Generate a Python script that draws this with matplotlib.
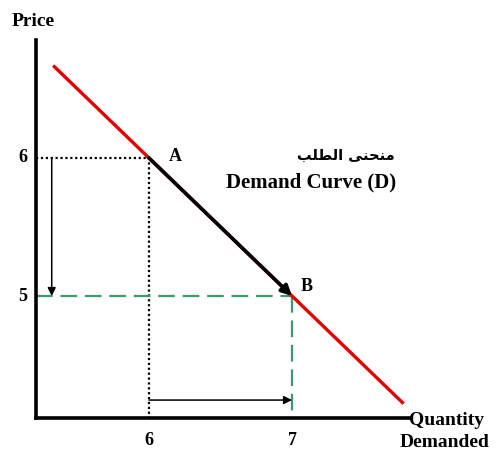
import matplotlib.pyplot as plt
import numpy as np

# demand curve P = 12 - Q, drawn between these quantities
demand_q = np.array([5.33, 7.78])
demand_p = 12 - demand_q

qty_ticks = [6, 7]
price_ticks = [6, 5]
point_labels = ["A", "B"]

serif = dict(family="Liberation Serif", fontweight="bold", color="black")

fig = plt.figure(figsize=(4.97, 4.55), dpi=100)
ax = fig.add_axes([36 / 497, 37 / 455, 374 / 497, 378 / 455])
ax.set_xlim(5.21, 7.825)
ax.set_ylim(4.116, 6.855)
for side in ["top", "right"]:
    ax.spines[side].set_visible(False)
for side in ["left", "bottom"]:
    ax.spines[side].set_linewidth(2.6)
ax.set_xticks([])
ax.set_yticks([])

x0, y0 = ax.get_xlim()[0], ax.get_ylim()[0]
qa, qb = qty_ticks
pa, pb = price_ticks

# guide lines to point A (dotted) and point B (dashed green)
ax.plot([x0, qa, qa], [pa, pa, y0], color="black", ls=(0, (1, 1.2)), lw=1.6,
        clip_on=False)
green = "#3d9a6c"
ax.plot([x0, qb], [pb, pb], color=green, ls=(0, (7.5, 3.5)), lw=1.6,
        clip_on=False)
ax.plot([qb, qb], [pb, y0], color=green, ls=(0, (7.5, 3.5)), lw=1.6,
        clip_on=False)

# demand curve
ax.plot(demand_q, demand_p, color="#e00000", lw=2.4, solid_capstyle="butt")

# movement along the curve from A to B
ax.annotate("", xy=(qb, pb), xytext=(qa, pa),
            arrowprops=dict(arrowstyle="-|>", color="black", lw=2.6,
                            mutation_scale=15, shrinkA=0, shrinkB=0))

# price falls, quantity rises
ax.annotate("", xy=(5.32, pb), xytext=(5.32, pa),
            arrowprops=dict(arrowstyle="-|>", color="black", lw=1.1,
                            mutation_scale=12, shrinkA=0, shrinkB=0))
ax.annotate("", xy=(qb, 4.246), xytext=(qa, 4.246),
            arrowprops=dict(arrowstyle="-|>", color="black", lw=1.1,
                            mutation_scale=12, shrinkA=0, shrinkB=0))

ax.text(qa + 0.14, pa + 0.01, point_labels[0], fontsize=13, ha="left",
        va="center", **serif)
ax.text(qb + 0.06, pb + 0.07, point_labels[1], fontsize=13, ha="left",
        va="center", **serif)

for p in price_ticks:
    ax.text(x0 - 0.06, p, str(p), fontsize=13, ha="right", va="center",
            clip_on=False, **serif)
for q in qty_ticks:
    ax.text(q, y0 - 0.16, str(q), fontsize=13, ha="center", va="center",
            clip_on=False, **serif)

ax.text(x0 - 0.02, 6.99, "Price", fontsize=14, ha="center", va="center",
        clip_on=False, **serif)
ax.text(8.08, y0 - 0.02, "Quantity", fontsize=14, ha="center", va="center",
        clip_on=False, **serif)
ax.text(8.07, y0 - 0.175, "Demanded", fontsize=14, ha="center", va="center",
        clip_on=False, **serif)

# Arabic title in shaped presentation forms, visual order
arabic = "\ufe90\ufee0\ufec4\ufedf\ufe8d \ufef0\ufee8\ufea4\ufee8\ufee3"
ax.text(7.38, 6.02, arabic, fontsize=10.5, ha="center", va="center",
        family=["DejaVu Sans"], fontweight="bold", color="black")
ax.text(7.133, 5.82, "Demand Curve (D)", fontsize=15, ha="center",
        va="center", **serif)

fig.savefig("out.png", dpi=100)
